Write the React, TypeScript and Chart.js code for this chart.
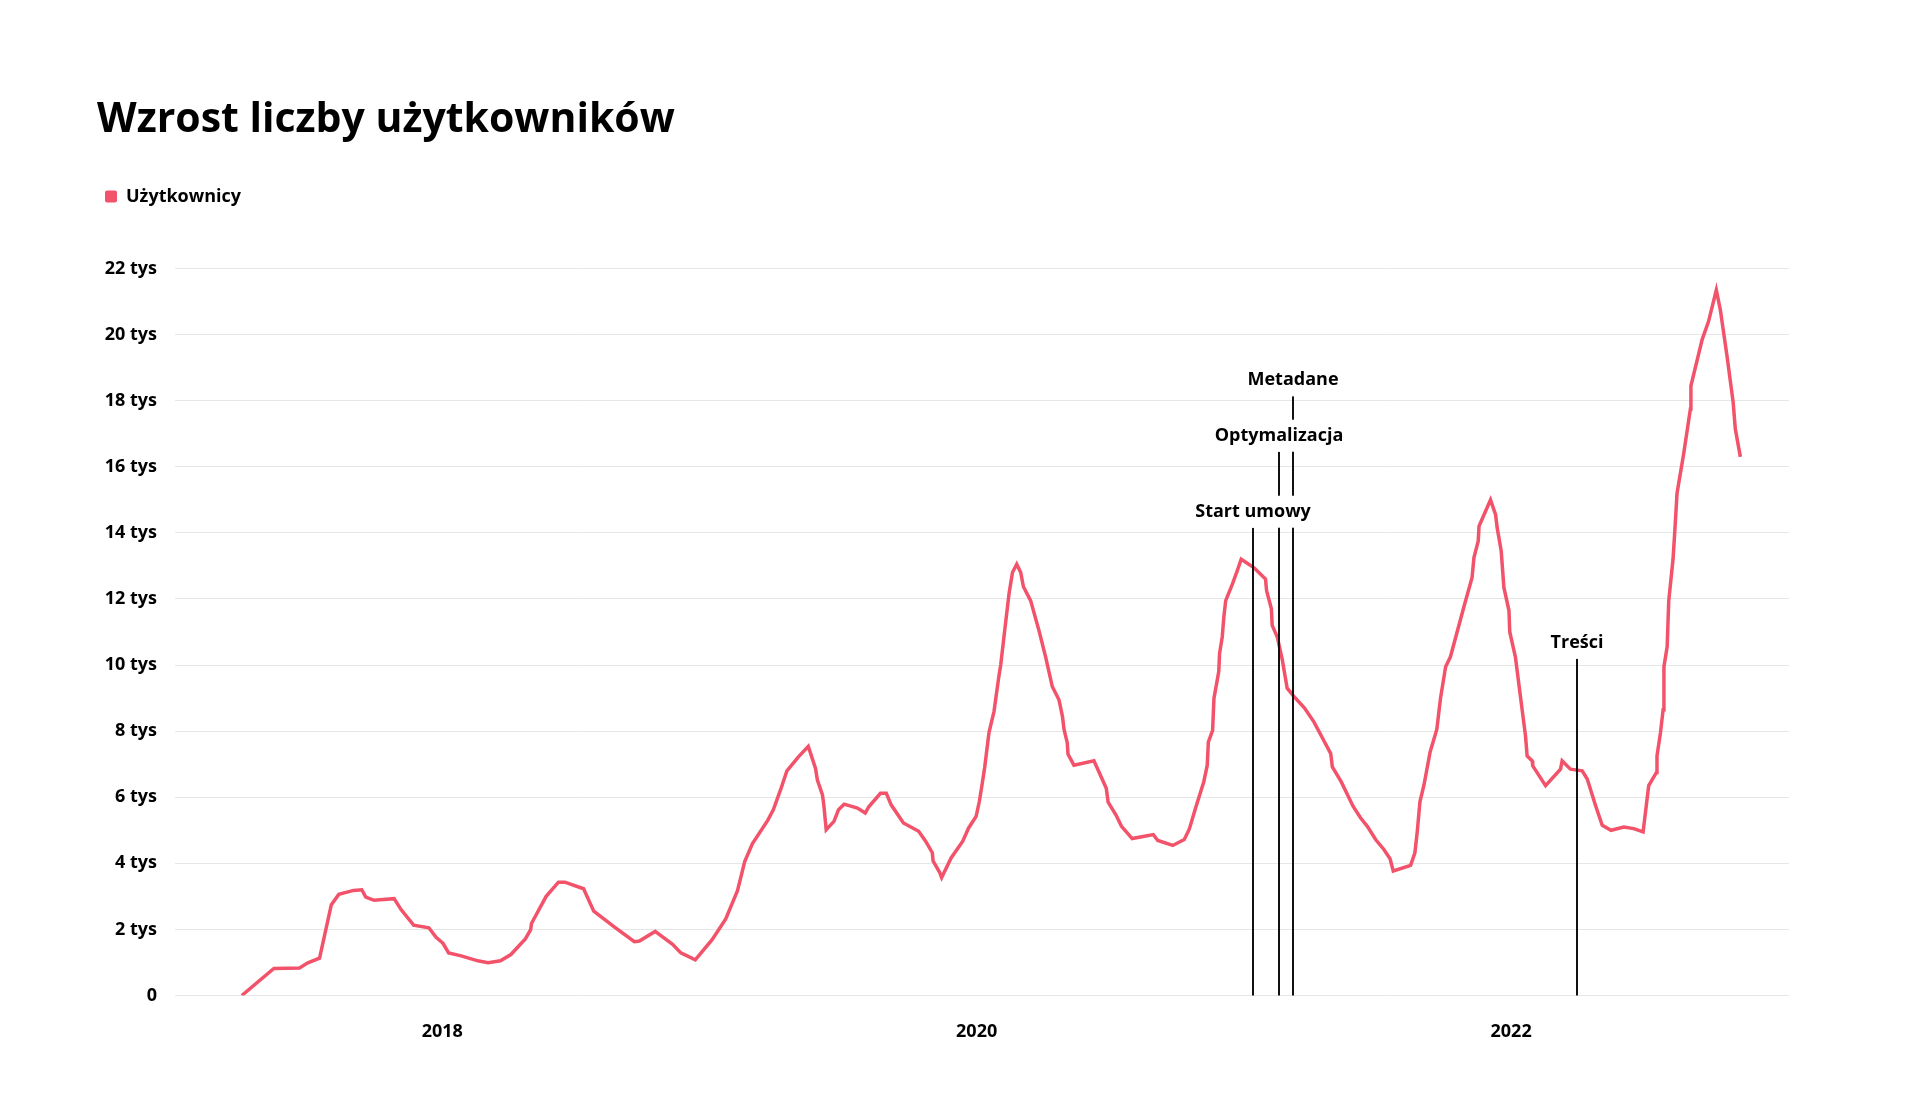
import { useEffect, useRef } from "react";
import { Chart, registerables } from "chart.js";

Chart.register(...registerables);

// Weekly readings: position on the time axis in fractional years, and user counts.
const timeYears = [
  2017.25, 2017.37, 2017.466, 2017.497, 2017.541, 2017.585, 2017.613, 2017.668, 2017.699, 2017.714,
  2017.745, 2017.82, 2017.846, 2017.893, 2017.95, 2017.977, 2018.003, 2018.024, 2018.071, 2018.133,
  2018.172, 2018.218, 2018.257, 2018.311, 2018.331, 2018.334, 2018.389, 2018.435, 2018.459, 2018.529,
  2018.567, 2018.645, 2018.719, 2018.738, 2018.797, 2018.862, 2018.893, 2018.947, 2019.01, 2019.061,
  2019.105, 2019.132, 2019.161, 2019.218, 2019.239, 2019.268, 2019.29, 2019.333, 2019.37, 2019.397,
  2019.404, 2019.423, 2019.428, 2019.437, 2019.466, 2019.483, 2019.504, 2019.554, 2019.583, 2019.597,
  2019.64, 2019.662, 2019.68, 2019.726, 2019.783, 2019.809, 2019.834, 2019.837, 2019.862, 2019.869,
  2019.905, 2019.948, 2019.97, 2019.998, 2020.01, 2020.02, 2020.03, 2020.046, 2020.065, 2020.083,
  2020.09, 2020.105, 2020.121, 2020.134, 2020.15, 2020.165, 2020.175, 2020.202, 2020.233, 2020.258,
  2020.283, 2020.308, 2020.321, 2020.327, 2020.339, 2020.342, 2020.364, 2020.439, 2020.485, 2020.492,
  2020.521, 2020.542, 2020.582, 2020.628, 2020.661, 2020.678, 2020.734, 2020.777, 2020.796, 2020.819,
  2020.85, 2020.863, 2020.867, 2020.883, 2020.888, 2020.906, 2020.909, 2020.919, 2020.925, 2020.932,
  2020.957, 2020.975, 2020.99, 2021.037, 2021.081, 2021.085, 2021.103, 2021.106, 2021.125, 2021.144,
  2021.162, 2021.187, 2021.227, 2021.262, 2021.3, 2021.325, 2021.331, 2021.364, 2021.409, 2021.437,
  2021.462, 2021.493, 2021.524, 2021.547, 2021.559, 2021.624, 2021.64, 2021.649, 2021.659, 2021.674,
  2021.697, 2021.722, 2021.736, 2021.755, 2021.773, 2021.823, 2021.854, 2021.861, 2021.877, 2021.88,
  2021.923, 2021.942, 2021.948, 2021.963, 2021.973, 2021.992, 2021.995, 2022.016, 2022.035, 2022.054,
  2022.06, 2022.079, 2022.081, 2022.129, 2022.185, 2022.191, 2022.222, 2022.266, 2022.285, 2022.316,
  2022.341, 2022.374, 2022.422, 2022.459, 2022.494, 2022.515, 2022.544, 2022.546, 2022.559, 2022.569,
  2022.572, 2022.584, 2022.59, 2022.606, 2022.613, 2022.621, 2022.646, 2022.671, 2022.673, 2022.715,
  2022.739, 2022.768, 2022.783, 2022.808, 2022.831, 2022.839, 2022.858,
];

const users = [
  0, 820, 835, 990, 1130, 2750, 3060, 3180, 3200, 2980,
  2880, 2930, 2600, 2130, 2050, 1760, 1580, 1290, 1200, 1050,
  995, 1050, 1240, 1710, 1990, 2180, 3000, 3430, 3430, 3230,
  2550, 2070, 1630, 1650, 1940, 1550, 1290, 1080, 1690, 2320,
  3170, 4050, 4600, 5300, 5620, 6270, 6800, 7220, 7540, 6870,
  6520, 6070, 5770, 5020, 5270, 5620, 5790, 5670, 5520, 5720,
  6120, 6120, 5770, 5220, 4970, 4670, 4320, 4070, 3720, 3570,
  4170, 4670, 5070, 5420, 5870, 6370, 6900, 7950, 8600, 9650,
  10000, 11050, 12150, 12800, 13050, 12800, 12370, 11950, 11050, 10250,
  9350, 8950, 8450, 8050, 7650, 7300, 6970, 7100, 6270, 5850,
  5470, 5120, 4750, 4820, 4870, 4690, 4540, 4720, 5040, 5670,
  6470, 6970, 7670, 8020, 8990, 9800, 10350, 10850, 11450, 11950,
  12450, 12850, 13200, 12950, 12600, 12250, 11700, 11200, 10850, 10150,
  9300, 9050, 8700, 8280, 7700, 7320, 6920, 6470, 5720, 5370,
  5120, 4720, 4420, 4140, 3770, 3940, 4320, 4970, 5870, 6370,
  7370, 8050, 9000, 9950, 10250, 11750, 12650, 13250, 13750, 14200,
  15000, 14550, 14150, 13450, 12350, 11650, 11000, 10250, 9050, 7850,
  7250, 7100, 6950, 6350, 6850, 7100, 6850, 6800, 6550, 5750,
  5150, 5000, 5100, 5050, 4950, 6350, 6750, 7250, 7950, 8650,
  9950, 10550, 11950, 13200, 14100, 15200, 16400, 17750, 18450, 19850,
  20400, 21350, 20750, 19350, 17950, 17150, 16300,
];

const yearTicks = [2018, 2020, 2022];

// Project milestones: name, when it happened, and the value level where its label sits.
const milestoneNames = ["Start umowy", "Optymalizacja", "Metadane", "Treści"];
const milestoneTimes = [2021.033, 2021.132, 2021.184, 2022.247];
const milestoneLabelLevels = [14640, 16940, 18620, 10675];

const SERIES_COLOR = "#f2526a";
const FONT = "'Open Sans', sans-serif";
const LABEL_HALF_HEIGHT = 16;

const milestonePlugin = {
  id: "milestones",
  afterDatasetsDraw(chart: any) {
    const { ctx } = chart;
    const x = chart.scales.x;
    const y = chart.scales.y;
    const base = y.getPixelForValue(0);
    const items = milestoneNames.map((name, i) => ({
      name,
      px: Math.round(x.getPixelForValue(milestoneTimes[i])),
      py: y.getPixelForValue(milestoneLabelLevels[i]),
    }));
    ctx.save();
    ctx.strokeStyle = "#111";
    ctx.lineWidth = 2;
    for (const it of items) {
      ctx.beginPath();
      ctx.moveTo(it.px, base);
      ctx.lineTo(it.px, it.py + LABEL_HALF_HEIGHT);
      ctx.stroke();
    }
    ctx.font = `700 18px ${FONT}`;
    ctx.textAlign = "center";
    ctx.textBaseline = "middle";
    for (const it of items) {
      const w = ctx.measureText(it.name).width + 8;
      ctx.fillStyle = "#fff";
      ctx.fillRect(it.px - w / 2, it.py - LABEL_HALF_HEIGHT, w, LABEL_HALF_HEIGHT * 2);
      ctx.fillStyle = "#000";
      ctx.fillText(it.name, it.px, it.py);
    }
    ctx.restore();
  },
};

export default function App() {
  const canvasRef = useRef<HTMLCanvasElement>(null);

  useEffect(() => {
    document.body.style.margin = "0";
    const canvas = canvasRef.current;
    if (!canvas) return;

    const chart = new Chart(canvas, {
      type: "line",
      data: {
        datasets: [
          {
            label: "Użytkownicy",
            data: timeYears.map((t, i) => ({ x: t, y: users[i] })),
            borderColor: SERIES_COLOR,
            backgroundColor: SERIES_COLOR,
            borderWidth: 3.5,
            pointRadius: 0,
            tension: 0,
            fill: false,
          },
        ],
      },
      options: {
        responsive: false,
        animation: false,
        devicePixelRatio: 1,
        events: [],
        layout: { padding: { left: 97, right: 131, top: 80, bottom: 40 } },
        plugins: {
          title: {
            display: true,
            text: "Wzrost liczby użytkowników",
            align: "start",
            color: "#000",
            font: { family: FONT, size: 41, weight: 700 },
            padding: { top: 16, bottom: 34.3 },
          },
          legend: {
            display: true,
            align: "start",
            labels: {
              color: "#000",
              font: { family: FONT, size: 18, weight: 700 },
              boxWidth: 12,
              boxHeight: 12,
              padding: 8,
              useBorderRadius: true,
              borderRadius: 2,
              generateLabels: (c: any) =>
                Chart.defaults.plugins.legend.labels
                  .generateLabels(c)
                  .map((item: any) => ({ ...item, lineWidth: 0, fillStyle: SERIES_COLOR })),
            },
          },
          // empty spacer between the legend and the plot area
          subtitle: {
            display: true,
            text: "",
            weight: 100,
            padding: 0,
            font: { size: 53, lineHeight: 1 },
          },
          tooltip: { enabled: false },
        },
        scales: {
          x: {
            type: "linear",
            min: 2017,
            max: 2023.04,
            afterBuildTicks: (s: any) => {
              s.ticks = yearTicks.map((value) => ({ value }));
            },
            afterFit: (s: any) => {
              s.height = 57.5;
            },
            ticks: {
              padding: 26,
              color: "#000",
              font: { family: FONT, size: 18, weight: 700 },
              maxRotation: 0,
              autoSkip: false,
              callback: (v: any) => String(v),
            },
            grid: { display: false, drawTicks: false },
            border: { display: false },
          },
          y: {
            min: 0,
            max: 22000,
            afterFit: (s: any) => {
              s.width = 78;
            },
            ticks: {
              stepSize: 2000,
              padding: 18,
              color: "#000",
              font: { family: FONT, size: 18, weight: 700 },
              callback: (v: any) => (v === 0 ? "0" : `${v / 1000} tys`),
            },
            grid: { color: "#e6e6e6", lineWidth: 1, drawTicks: false },
            border: { display: false },
          },
        },
      },
      plugins: [milestonePlugin],
    } as any);

    return () => chart.destroy();
  }, []);

  return (
    <div style={{ width: 1920, height: 1093, background: "#fff" }}>
      <canvas ref={canvasRef} width={1920} height={1093} style={{ display: "block" }} />
    </div>
  );
}
